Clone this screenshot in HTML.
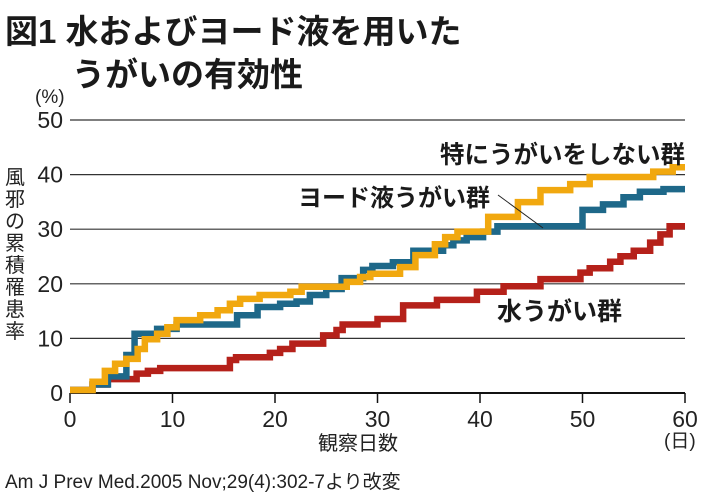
<!DOCTYPE html>
<html><head><meta charset="utf-8"><style>
body{margin:0;background:#fff;}
svg{display:block;font-family:"Liberation Sans","Noto Sans CJK JP",sans-serif;}
</style></head><body>
<svg width="710" height="500" viewBox="0 0 710 500">
<text x="5" y="43" font-size="33" font-weight="bold" fill="#1a1a1a">図1 水およびヨード液を用いた</text>
<text x="72" y="86" font-size="33" font-weight="bold" fill="#1a1a1a">うがいの有効性</text>
<text x="35" y="103" font-size="19" fill="#222">(%)</text>
<g id="grid"></g>
<g id="series"></g>
<text font-size="20" fill="#222"><tspan x="5" y="184">風</tspan><tspan x="5" y="206">邪</tspan><tspan x="5" y="228">の</tspan><tspan x="5" y="250">累</tspan><tspan x="5" y="272">積</tspan><tspan x="5" y="294">罹</tspan><tspan x="5" y="316">患</tspan><tspan x="5" y="338">率</tspan></text>
<text x="358" y="450" text-anchor="middle" font-size="20" fill="#222">観察日数</text>
<text x="664" y="447" font-size="19" fill="#222">(日)</text>
<text x="5" y="488" font-size="19" fill="#222">Am J Prev Med.2005 Nov;29(4):302-7より改変</text>
<text x="440" y="163" font-size="24.5" font-weight="bold" fill="#1a1a1a">特にうがいをしない群</text>
<text x="298" y="206" font-size="24" font-weight="bold" fill="#1a1a1a">ヨード液うがい群</text>
<line x1="498" y1="195" x2="543" y2="228" stroke="#222" stroke-width="1"/>
<text x="497" y="320" font-size="25" font-weight="bold" fill="#1a1a1a">水うがい群</text>
</svg>
<script>
const yTicks=[0,10,20,30,40,50];
const xTicks=[0,10,20,30,40,50,60];
const waterDays=[0,2.2,3.6,6.5,7.6,8.8,15.6,16.2,19.5,20.5,21.7,24.7,26,26.6,30,32.5,35.8,39.7,42.3,45.9,49.8,50.7,52.7,53.7,55,56.6,57.6,58.5,60];
const waterVals=[0,1,2,3,3.5,4,5.5,6,6.8,7.5,8.5,10,11,12,13,15.5,16.5,18,19,20.3,21.5,22.3,23.5,24.5,25.5,27,28.5,30,30];
const iodineDays=[0,2.2,3.7,5.5,6.3,8.5,10.4,12.7,16.3,18.3,20.5,22.1,23.4,25,26.5,28.6,29.5,31.5,33.5,36.4,37.4,38.7,40.3,41.7,50,52,54,55.6,57.9,60];
const iodineVals=[0,1,2.5,6.4,10.3,11.2,12,12,13.7,15.2,15.8,16.2,17.4,18.5,20.5,22,22.7,23.4,25.5,26.5,27.4,28,29,30,33,34,35.3,36.3,36.8,36.8];
const plainDays=[0,2.2,3.4,4.4,5.5,6.6,7.3,8.5,9.5,10.4,12.7,14.4,15.6,16.6,18.5,21.5,22.6,27,28.3,29.3,32.2,33.7,35.6,36.6,37.8,40.8,43.7,45.9,48.8,50.7,56.9,58.8,60];
const plainVals=[0,1.5,3.5,4.8,5.7,7.5,9.3,10.3,11.5,12.8,13.7,14.6,15.8,16.7,17.4,18,18.9,19.8,20.7,21.3,22.5,24.7,26.7,28,29,31.7,34.4,36.6,37.7,39,40,40.8,40.8];
const X=d=>70+d*10.25, Y=v=>393-v*5.46;
const NS="http://www.w3.org/2000/svg";
const grid=document.getElementById('grid'), ser=document.getElementById('series');
yTicks.forEach(t=>{
 const l=document.createElementNS(NS,'line');
 l.setAttribute('x1',70);l.setAttribute('x2',685);l.setAttribute('y1',Y(t));l.setAttribute('y2',Y(t));
 l.setAttribute('stroke',t===0?'#111':'#333');l.setAttribute('stroke-width',t===0?2:1.2);
 
 
 grid.appendChild(l);
 const tx=document.createElementNS(NS,'text');
 tx.setAttribute('x',63);tx.setAttribute('y',Y(t)+8);tx.setAttribute('text-anchor','end');tx.setAttribute('font-size','23');tx.setAttribute('fill','#222');
 tx.textContent=t;
 
 
 grid.appendChild(tx);
});
xTicks.forEach(t=>{
 const l=document.createElementNS(NS,'line');
 l.setAttribute('x1',X(t));l.setAttribute('x2',X(t));l.setAttribute('y1',393);l.setAttribute('y2',403);
 l.setAttribute('stroke','#111');l.setAttribute('stroke-width',1.5);
 
 
 grid.appendChild(l);
 const tx=document.createElementNS(NS,'text');
 tx.setAttribute('x',X(t));tx.setAttribute('y',427);tx.setAttribute('text-anchor','middle');tx.setAttribute('font-size','23');tx.setAttribute('fill','#222');
 tx.textContent=t;
 
 
 grid.appendChild(tx);
});
function step(days,vals,color,name){
 let d='M'+X(days[0])+','+(Y(vals[0])-3);
 for(let i=1;i<days.length;i++){d+=' H'+X(days[i])+' V'+(Y(vals[i])-3);}
 const p=document.createElementNS(NS,'path');
 p.setAttribute('d',d);p.setAttribute('fill','none');p.setAttribute('stroke',color);p.setAttribute('stroke-width',6.5);p.setAttribute('stroke-linejoin','miter');
 
 
 ser.appendChild(p);
}
step(waterDays,waterVals,'#b5211a','water-gargle-series');
step(iodineDays,iodineVals,'#1e6889','iodine-gargle-series');
step(plainDays,plainVals,'#f1a80f','no-gargle-series');
</script>
</body></html>
